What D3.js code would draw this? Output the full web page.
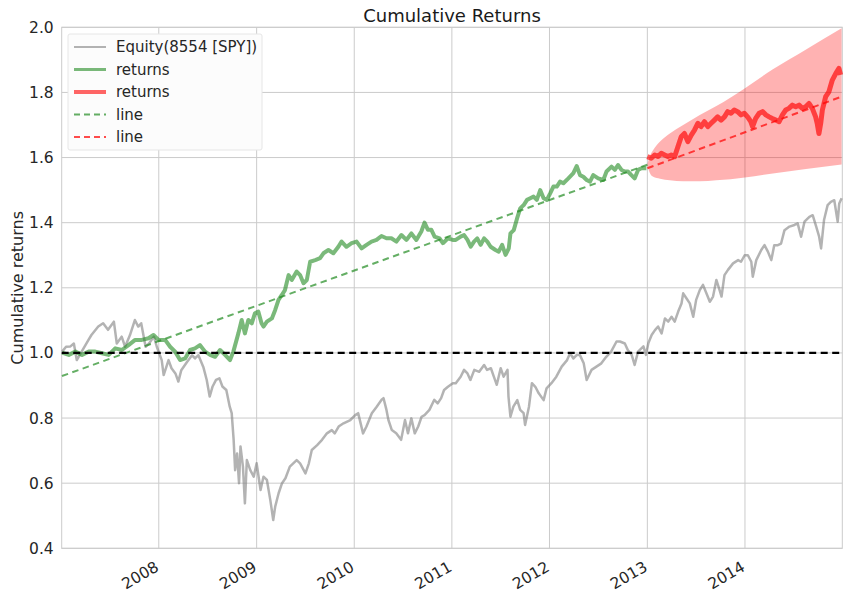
<!DOCTYPE html>
<html>
<head>
<meta charset="utf-8">
<script src="https://cdn.jsdelivr.net/npm/d3@7"></script>
<style>
  body { margin: 0; background: #fff; }
  text { font-family: "DejaVu Sans", sans-serif; fill: #262626; }
</style>
</head>
<body>
<svg id="chart" width="848" height="597"></svg>
<script>
// [decimal year, cumulative return]
const equity = [
  [2007.01,1.004],[2007.05,1.019],[2007.095,1.02],[2007.13,1.029],[2007.16,0.978],[2007.21,1.004],
  [2007.28,1.040],[2007.31,1.055],[2007.38,1.081],[2007.43,1.091],[2007.48,1.071],[2007.54,1.096],
  [2007.57,1.029],[2007.62,1.050],[2007.655,1.019],[2007.705,1.055],[2007.755,1.101],[2007.79,1.081],
  [2007.82,1.091],[2007.865,1.019],[2007.90,1.029],[2007.95,1.050],[2007.98,1.019],[2008.03,0.978],
  [2008.05,0.932],[2008.10,0.978],[2008.13,0.953],[2008.17,0.937],[2008.20,0.912],[2008.23,0.947],
  [2008.29,0.973],[2008.34,0.993],[2008.37,0.983],[2008.405,0.993],[2008.455,0.957],[2008.49,0.917],
  [2008.52,0.866],[2008.55,0.897],[2008.585,0.917],[2008.62,0.922],[2008.65,0.897],[2008.69,0.886],
  [2008.725,0.835],[2008.745,0.815],[2008.765,0.733],[2008.78,0.640],[2008.80,0.691],[2008.82,0.600],
  [2008.835,0.713],[2008.86,0.651],[2008.88,0.538],[2008.90,0.671],[2008.935,0.640],[2008.97,0.620],
  [2009.00,0.661],[2009.04,0.579],[2009.07,0.620],[2009.105,0.610],[2009.14,0.548],[2009.17,0.487],
  [2009.19,0.528],[2009.225,0.569],[2009.26,0.600],[2009.295,0.615],[2009.34,0.651],[2009.41,0.671],
  [2009.445,0.661],[2009.50,0.630],[2009.535,0.661],[2009.565,0.702],[2009.62,0.717],[2009.67,0.733],
  [2009.72,0.753],[2009.77,0.763],[2009.80,0.753],[2009.84,0.774],[2009.89,0.784],[2009.96,0.794],
  [2010.01,0.809],[2010.04,0.815],[2010.09,0.753],[2010.125,0.774],[2010.18,0.815],[2010.23,0.835],
  [2010.28,0.856],[2010.30,0.861],[2010.33,0.825],[2010.35,0.794],[2010.385,0.763],[2010.43,0.753],
  [2010.48,0.733],[2010.52,0.794],[2010.55,0.753],[2010.585,0.799],[2010.62,0.753],[2010.655,0.774],
  [2010.69,0.804],[2010.72,0.809],[2010.77,0.825],[2010.82,0.856],[2010.855,0.845],[2010.89,0.861],
  [2010.92,0.886],[2010.96,0.896],[2011.01,0.907],[2011.04,0.907],[2011.09,0.927],[2011.125,0.948],
  [2011.16,0.937],[2011.19,0.917],[2011.23,0.948],[2011.28,0.942],[2011.33,0.963],[2011.36,0.948],
  [2011.40,0.953],[2011.43,0.927],[2011.46,0.902],[2011.50,0.953],[2011.53,0.927],[2011.57,0.948],
  [2011.58,0.866],[2011.60,0.804],[2011.63,0.835],[2011.67,0.855],[2011.70,0.825],[2011.735,0.815],
  [2011.75,0.779],[2011.79,0.835],[2011.82,0.907],[2011.855,0.896],[2011.89,0.876],[2011.94,0.855],
  [2011.97,0.891],[2012.02,0.907],[2012.07,0.927],[2012.125,0.958],[2012.18,0.978],[2012.21,0.999],
  [2012.245,0.983],[2012.28,0.994],[2012.31,0.994],[2012.35,0.968],[2012.38,0.917],[2012.43,0.948],
  [2012.48,0.958],[2012.53,0.968],[2012.58,0.988],[2012.63,1.004],[2012.685,1.035],[2012.72,1.035],
  [2012.77,1.029],[2012.80,1.009],[2012.84,0.994],[2012.87,0.963],[2012.905,1.004],[2012.96,1.020],
  [2012.986,0.994],[2013.01,1.030],[2013.044,1.055],[2013.078,1.070],[2013.11,1.081],[2013.146,1.060],
  [2013.18,1.106],[2013.214,1.096],[2013.248,1.111],[2013.28,1.096],[2013.316,1.127],[2013.35,1.152],
  [2013.367,1.183],[2013.40,1.168],[2013.435,1.152],[2013.47,1.111],[2013.50,1.163],[2013.537,1.193],
  [2013.57,1.209],[2013.605,1.183],[2013.64,1.157],[2013.673,1.173],[2013.707,1.224],[2013.74,1.193],
  [2013.76,1.173],[2013.79,1.239],[2013.826,1.255],[2013.878,1.275],[2013.93,1.285],[2013.96,1.280],
  [2013.997,1.300],[2014.03,1.300],[2014.065,1.280],[2014.08,1.234],[2014.116,1.285],[2014.167,1.316],
  [2014.20,1.331],[2014.235,1.311],[2014.27,1.285],[2014.30,1.331],[2014.337,1.331],[2014.37,1.336],
  [2014.405,1.377],[2014.456,1.388],[2014.507,1.393],[2014.54,1.398],[2014.575,1.357],[2014.61,1.403],
  [2014.66,1.418],[2014.694,1.423],[2014.73,1.388],[2014.76,1.357],[2014.78,1.321],[2014.81,1.408],
  [2014.847,1.454],[2014.88,1.464],[2014.915,1.469],[2014.95,1.403],[2014.966,1.459],[2014.99,1.475]
];

// in-sample returns (green)
const returnsIS = [
  [2007.01,1.001],[2007.078,0.994],[2007.146,1.004],[2007.214,0.994],[2007.282,1.004],[2007.35,1.004],
  [2007.418,0.999],[2007.486,0.994],[2007.554,1.014],[2007.622,1.009],[2007.69,1.024],[2007.758,1.040],
  [2007.827,1.040],[2007.895,1.045],[2007.946,1.055],[2007.997,1.040],[2008.065,1.040],[2008.116,1.019],
  [2008.167,1.004],[2008.218,0.978],[2008.269,0.983],[2008.32,1.009],[2008.37,1.014],[2008.42,1.024],
  [2008.473,1.004],[2008.524,0.994],[2008.575,0.988],[2008.626,1.009],[2008.677,0.994],[2008.728,0.978],
  [2008.762,1.004],[2008.813,1.060],[2008.847,1.101],[2008.88,1.060],[2008.915,1.101],[2008.95,1.091],
  [2008.983,1.122],[2009.017,1.127],[2009.05,1.091],[2009.07,1.081],[2009.105,1.096],[2009.156,1.106],
  [2009.19,1.132],[2009.224,1.163],[2009.258,1.178],[2009.29,1.193],[2009.327,1.239],[2009.36,1.224],
  [2009.41,1.250],[2009.445,1.239],[2009.48,1.214],[2009.514,1.224],[2009.548,1.280],[2009.60,1.285],
  [2009.65,1.291],[2009.684,1.306],[2009.735,1.316],[2009.786,1.306],[2009.837,1.326],[2009.87,1.342],
  [2009.92,1.326],[2009.973,1.337],[2010.024,1.342],[2010.075,1.321],[2010.126,1.332],[2010.177,1.342],
  [2010.228,1.347],[2010.279,1.359],[2010.33,1.352],[2010.38,1.352],[2010.432,1.342],[2010.483,1.362],
  [2010.534,1.347],[2010.585,1.367],[2010.636,1.347],[2010.687,1.373],[2010.72,1.400],[2010.755,1.378],
  [2010.79,1.378],[2010.823,1.357],[2010.874,1.352],[2010.908,1.337],[2010.96,1.352],[2011.01,1.347],
  [2011.04,1.347],[2011.09,1.357],[2011.125,1.362],[2011.16,1.347],[2011.193,1.326],[2011.227,1.342],
  [2011.26,1.352],[2011.295,1.332],[2011.33,1.352],[2011.363,1.342],[2011.397,1.326],[2011.447,1.316],
  [2011.48,1.311],[2011.515,1.332],[2011.55,1.301],[2011.583,1.321],[2011.60,1.367],[2011.634,1.377],
  [2011.668,1.413],[2011.70,1.444],[2011.736,1.454],[2011.77,1.470],[2011.803,1.475],[2011.837,1.480],
  [2011.87,1.470],[2011.905,1.500],[2011.94,1.475],[2011.973,1.470],[2012.007,1.490],[2012.04,1.511],
  [2012.075,1.511],[2012.108,1.526],[2012.142,1.521],[2012.193,1.536],[2012.244,1.552],[2012.278,1.574],
  [2012.312,1.546],[2012.346,1.541],[2012.38,1.531],[2012.414,1.526],[2012.447,1.546],[2012.498,1.536],
  [2012.55,1.531],[2012.583,1.557],[2012.634,1.572],[2012.668,1.562],[2012.70,1.577],[2012.736,1.562],
  [2012.77,1.557],[2012.803,1.557],[2012.837,1.546],[2012.87,1.536],[2012.905,1.562],[2012.94,1.567],
  [2012.99,1.567]
];

// out-of-sample returns (red)
const returnsOOS = [
  [2013.0,1.603],[2013.04,1.598],[2013.075,1.608],[2013.11,1.603],[2013.143,1.613],[2013.177,1.608],
  [2013.21,1.603],[2013.245,1.608],[2013.28,1.603],[2013.313,1.633],[2013.347,1.664],[2013.38,1.674],
  [2013.415,1.649],[2013.45,1.669],[2013.483,1.684],[2013.517,1.705],[2013.55,1.695],[2013.585,1.710],
  [2013.62,1.695],[2013.653,1.705],[2013.687,1.715],[2013.72,1.725],[2013.755,1.715],[2013.79,1.725],
  [2013.823,1.741],[2013.857,1.736],[2013.89,1.746],[2013.925,1.741],[2013.96,1.731],[2013.993,1.736],
  [2014.027,1.725],[2014.06,1.710],[2014.078,1.695],[2014.11,1.720],[2014.146,1.736],[2014.18,1.741],
  [2014.214,1.731],[2014.248,1.725],[2014.28,1.720],[2014.316,1.715],[2014.35,1.710],[2014.384,1.731],
  [2014.418,1.746],[2014.45,1.751],[2014.486,1.761],[2014.52,1.756],[2014.554,1.761],[2014.588,1.751],
  [2014.622,1.756],[2014.656,1.766],[2014.69,1.751],[2014.724,1.725],[2014.74,1.705],[2014.758,1.674],
  [2014.776,1.705],[2014.793,1.746],[2014.827,1.787],[2014.86,1.802],[2014.895,1.838],[2014.93,1.858],
  [2014.963,1.874],[2014.98,1.854]
];

// cone: [decimal year, lower, upper]
const cone = [
  [2013.0,1.575,1.580],[2013.027,1.552,1.605],[2013.06,1.541,1.623],[2013.13,1.535,1.649],
  [2013.23,1.530,1.674],[2013.367,1.527,1.700],[2013.537,1.527,1.731],[2013.707,1.530,1.758],
  [2014.0,1.539,1.813],[2014.286,1.551,1.871],[2014.626,1.565,1.932],[2014.99,1.579,1.997]
];

const trendIS = [[2007.008,0.929],[2013.0,1.578]];
const trendOOS = [[2013.0,1.567],[2014.99,1.787]];
const baseline = 1.0;

const yTicks = [0.4, 0.6, 0.8, 1.0, 1.2, 1.4, 1.6, 1.8, 2.0];
const legendItems = [
  { label: "Equity(8554 [SPY])", color: "gray", opacity: 0.6, width: 2, dash: null },
  { label: "returns", color: "forestgreen", opacity: 0.6, width: 3, dash: null },
  { label: "returns", color: "red", opacity: 0.6, width: 4, dash: null },
  { label: "line", color: "forestgreen", opacity: 0.7, width: 2, dash: "6,4" },
  { label: "line", color: "red", opacity: 0.7, width: 2, dash: "6,4" }
];

function toDate(y) {
  const yr = Math.floor(y);
  const a = new Date(yr, 0, 1), b = new Date(yr + 1, 0, 1);
  return new Date(+a + (y - yr) * (b - a));
}

const svg = d3.select("#chart");
const margin = { top: 27.3, right: 5.7, bottom: 48.7, left: 61.7 };
const W = 848, H = 597;

const x = d3.scaleTime()
  .domain([new Date(2007, 0, 3), new Date(2014, 11, 31)])
  .range([margin.left, W - margin.right]);
const y = d3.scaleLinear()
  .domain([0.4, 2.0])
  .range([H - margin.bottom, margin.top]);

// grid
const xTicks = x.ticks(d3.timeYear.every(1)).filter(d => x(d) > margin.left + 1);
svg.append("g").selectAll("line").data(xTicks).enter().append("line")
  .attr("x1", d => x(d)).attr("x2", d => x(d))
  .attr("y1", margin.top).attr("y2", H - margin.bottom)
  .attr("stroke", "#cbcbcb").attr("stroke-width", 1);
svg.append("g").selectAll("line").data(yTicks).enter().append("line")
  .attr("x1", margin.left).attr("x2", W - margin.right)
  .attr("y1", d => y(d)).attr("y2", d => y(d))
  .attr("stroke", "#cbcbcb").attr("stroke-width", 1);
svg.append("rect")
  .attr("x", margin.left).attr("y", margin.top)
  .attr("width", W - margin.right - margin.left)
  .attr("height", H - margin.bottom - margin.top)
  .attr("fill", "none").attr("stroke", "#cbcbcb");

const plot = svg.append("g");

// cone
plot.append("path")
  .datum(cone)
  .attr("fill", "red").attr("fill-opacity", 0.3)
  .attr("d", d3.area()
    .curve(d3.curveMonotoneX)
    .x(d => x(toDate(d[0])))
    .y0(d => y(d[1]))
    .y1(d => y(d[2])));

const line = d3.line()
  .x(d => x(toDate(d[0])))
  .y(d => y(d[1]));

plot.append("path").datum(equity)
  .attr("fill", "none").attr("stroke", "gray").attr("stroke-opacity", 0.6)
  .attr("stroke-width", 2.5).attr("stroke-linejoin", "round").attr("d", line);

plot.append("path").datum(returnsIS)
  .attr("fill", "none").attr("stroke", "forestgreen").attr("stroke-opacity", 0.6)
  .attr("stroke-width", 4).attr("stroke-linejoin", "round").attr("d", line);

plot.append("path").datum(returnsOOS)
  .attr("fill", "none").attr("stroke", "red").attr("stroke-opacity", 0.65)
  .attr("stroke-width", 5).attr("stroke-linejoin", "round").attr("d", line);

plot.append("path").datum(trendIS)
  .attr("fill", "none").attr("stroke", "forestgreen").attr("stroke-opacity", 0.7)
  .attr("stroke-width", 2).attr("stroke-dasharray", "6.5,4.5").attr("d", line);

plot.append("path").datum(trendOOS)
  .attr("fill", "none").attr("stroke", "red").attr("stroke-opacity", 0.7)
  .attr("stroke-width", 2).attr("stroke-dasharray", "6.5,4.5").attr("d", line);

// 1.0 baseline
plot.append("line")
  .attr("x1", margin.left).attr("x2", W - margin.right)
  .attr("y1", y(baseline)).attr("y2", y(baseline))
  .attr("stroke", "black").attr("stroke-width", 2.2)
  .attr("stroke-dasharray", "7,4.5");

// axes
const yAxis = svg.append("g")
  .attr("transform", `translate(${margin.left},0)`)
  .call(d3.axisLeft(y).tickValues(yTicks).tickFormat(d3.format(".1f")).tickSize(0).tickPadding(8));
yAxis.select(".domain").remove();
yAxis.selectAll("text").style("font-size", "15.5px").attr("fill", "#262626")
  .style("font-family", '"DejaVu Sans", sans-serif');

const xAxis = svg.append("g")
  .attr("transform", `translate(0,${H - margin.bottom})`)
  .call(d3.axisBottom(x).tickValues(xTicks).tickFormat(d3.timeFormat("%Y")).tickSize(0));
xAxis.select(".domain").remove();
xAxis.selectAll("text")
  .style("font-size", "15.5px").attr("fill", "#262626")
  .style("font-family", '"DejaVu Sans", sans-serif')
  .attr("text-anchor", "end")
  .attr("y", 0).attr("dy", "0.72em")
  .attr("transform", "translate(-5,12) rotate(-30)");

svg.append("text")
  .attr("x", (margin.left + W - margin.right) / 2).attr("y", 22)
  .attr("text-anchor", "middle").style("font-size", "18px")
  .style("fill", "#1a1a1a")
  .text("Cumulative Returns");

svg.append("text")
  .attr("transform", `translate(23,${(margin.top + H - margin.bottom) / 2}) rotate(-90)`)
  .attr("text-anchor", "middle").style("font-size", "16px")
  .text("Cumulative returns");

// legend
const lg = svg.append("g").attr("transform", "translate(68,34)");
lg.append("rect").attr("width", 194).attr("height", 116).attr("rx", 2)
  .attr("fill", "#fcfcfc").attr("stroke", "#e6e6e6");
legendItems.forEach((d, i) => {
  const cy = 13 + i * 22.5;
  lg.append("line").attr("x1", 6).attr("x2", 38).attr("y1", cy).attr("y2", cy)
    .attr("stroke", d.color).attr("stroke-opacity", d.opacity)
    .attr("stroke-width", d.width).attr("stroke-dasharray", d.dash);
  lg.append("text").attr("x", 48).attr("y", cy).attr("dy", "0.36em")
    .style("font-size", "15px").text(d.label);
});
</script>
</body>
</html>
